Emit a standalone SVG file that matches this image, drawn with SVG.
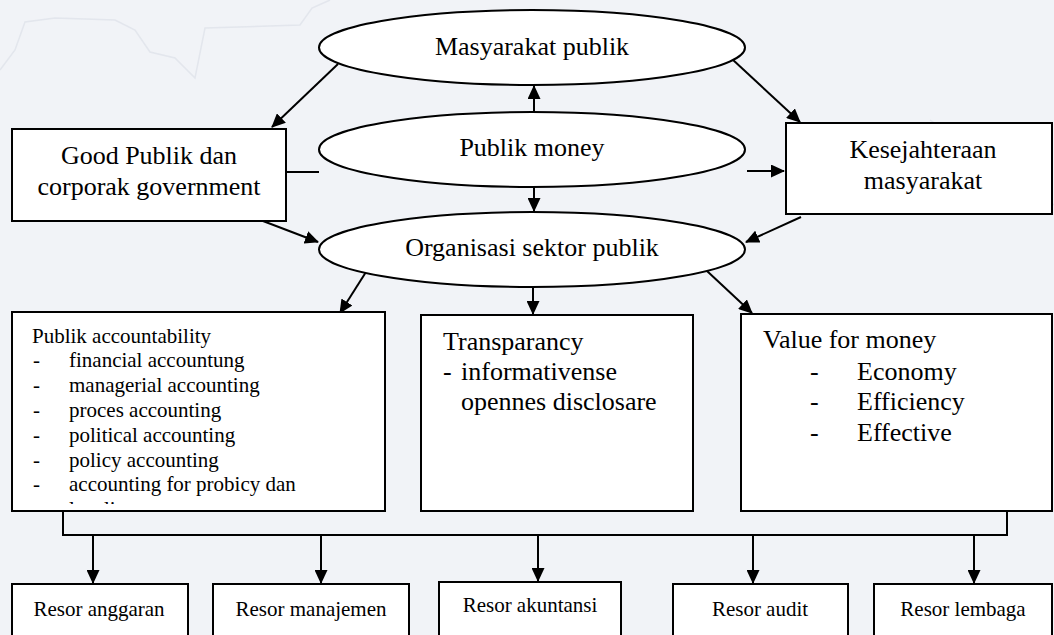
<svg xmlns="http://www.w3.org/2000/svg" width="1054" height="635" viewBox="0 0 1054 635">
<style>
.bg{fill:#f1f3f7}
.n{fill:#ffffff;stroke:#000000;stroke-width:2}
.t{font-family:'Liberation Serif','Times New Roman','DejaVu Serif',serif;fill:#000000}
.L{font-size:26px}
.S{font-size:21px}
.c{stroke:#000000;stroke-width:2;fill:none}
.a{marker-end:url(#ah)}
</style>
<defs>
<marker id="ah" markerUnits="userSpaceOnUse" markerWidth="14" markerHeight="13" refX="13" refY="6.5" orient="auto">
<path d="M0,0 L14,6.5 L0,13 z" fill="#000000"/>
</marker>
<clipPath id="accClip"><rect x="13" y="313" width="371" height="191"/></clipPath>
</defs>
<rect class="bg" x="0" y="0" width="1054" height="635"/>
<g opacity="0.35" stroke="#c9cfdb" stroke-width="1.5" fill="none">
<path d="M0,70 L15,50 L25,22 L55,18 L115,20 L135,30 L150,52 L175,58 L195,78 L205,28 L300,25 L312,8 L330,0"/>
<path d="M930,120 L1054,205"/>
</g>

<g id="connectors">
<line class="c a" x1="338" y1="64" x2="272" y2="127"/>
<line class="c a" x1="732" y1="59" x2="800" y2="122"/>
<line class="c a" x1="534" y1="112" x2="534" y2="86"/>
<line class="c a" x1="534" y1="187" x2="534" y2="211"/>
<line class="c" x1="286" y1="172" x2="319" y2="172"/>
<line class="c a" x1="747" y1="171" x2="784" y2="171"/>
<line class="c a" x1="263" y1="221" x2="318" y2="242"/>
<line class="c a" x1="801" y1="217" x2="746" y2="242"/>
<line class="c a" x1="366" y1="272" x2="340" y2="313"/>
<line class="c a" x1="533" y1="287" x2="533" y2="314"/>
<line class="c a" x1="707" y1="271" x2="752" y2="313"/>
<polyline class="c" points="63,511 63,535 1007,535 1007,511"/>
<line class="c a" x1="93" y1="535" x2="93" y2="583"/>
<line class="c a" x1="321" y1="535" x2="321" y2="583"/>
<line class="c a" x1="538" y1="535" x2="538" y2="581"/>
<line class="c a" x1="753" y1="535" x2="753" y2="583"/>
<line class="c a" x1="974" y1="535" x2="974" y2="583"/>
</g>

<g id="masyarakat-publik">
<ellipse class="n" cx="532" cy="47.5" rx="213" ry="37.5"/>
<text class="t L" x="532" y="55" text-anchor="middle">Masyarakat publik</text>
</g>
<g id="publik-money">
<ellipse class="n" cx="532" cy="149.5" rx="213" ry="37.5"/>
<text class="t L" x="532" y="156" text-anchor="middle">Publik money</text>
</g>
<g id="organisasi">
<ellipse class="n" cx="532" cy="249.5" rx="213" ry="37.5"/>
<text class="t L" x="532" y="256" text-anchor="middle">Organisasi sektor publik</text>
</g>
<g id="good-publik">
<rect class="n" x="12" y="129" width="274" height="92"/>
<text class="t L" x="149" y="164" text-anchor="middle">Good Publik dan</text>
<text class="t L" x="149" y="195" text-anchor="middle">corporak government</text>
</g>
<g id="kesejahteraan">
<rect class="n" x="786" y="123" width="266" height="91"/>
<text class="t L" x="923" y="158" text-anchor="middle">Kesejahteraan</text>
<text class="t L" x="923" y="189" text-anchor="middle">masyarakat</text>
</g>
<g id="publik-accountability">
<rect class="n" x="12" y="312" width="373" height="199"/>
<g clip-path="url(#accClip)">
<text class="t S" x="32" y="343">Publik accountability</text>
<text class="t S" x="33" y="367">-</text><text class="t S" x="69" y="367">financial accountung</text>
<text class="t S" x="33" y="392">-</text><text class="t S" x="69" y="392">managerial accounting</text>
<text class="t S" x="33" y="417">-</text><text class="t S" x="69" y="417">proces accounting</text>
<text class="t S" x="33" y="442">-</text><text class="t S" x="69" y="442">political accounting</text>
<text class="t S" x="33" y="467">-</text><text class="t S" x="69" y="467">policy accounting</text>
<text class="t S" x="33" y="491">-</text><text class="t S" x="69" y="491">accounting for probicy dan</text>
<text class="t S" x="69" y="516">legalitas</text>
</g>
</g>
<g id="transparancy">
<rect class="n" x="421" y="315" width="272" height="196"/>
<text class="t L" x="443" y="350">Transparancy</text>
<text class="t L" x="443" y="380">-</text><text class="t L" x="461" y="380">informativense</text>
<text class="t L" x="461" y="410">opennes disclosare</text>
</g>
<g id="value-for-money">
<rect class="n" x="741" y="314" width="311" height="197"/>
<text class="t L" x="763" y="348">Value for money</text>
<text class="t L" x="810" y="380">-</text><text class="t L" x="857" y="380">Economy</text>
<text class="t L" x="810" y="410">-</text><text class="t L" x="857" y="410">Efficiency</text>
<text class="t L" x="810" y="441">-</text><text class="t L" x="857" y="441">Effective</text>
</g>
<g id="resor-anggaran">
<rect class="n" x="12" y="584" width="176" height="60"/>
<text class="t S" x="99" y="616" text-anchor="middle">Resor anggaran</text>
</g>
<g id="resor-manajemen">
<rect class="n" x="213" y="584" width="196" height="60"/>
<text class="t S" x="311" y="616" text-anchor="middle">Resor manajemen</text>
</g>
<g id="resor-akuntansi">
<rect class="n" x="439" y="582" width="182" height="62"/>
<text class="t S" x="530" y="612" text-anchor="middle">Resor akuntansi</text>
</g>
<g id="resor-audit">
<rect class="n" x="673" y="584" width="175" height="60"/>
<text class="t S" x="760" y="616" text-anchor="middle">Resor audit</text>
</g>
<g id="resor-lembaga">
<rect class="n" x="874" y="584" width="178" height="60"/>
<text class="t S" x="963" y="616" text-anchor="middle">Resor lembaga</text>
</g>
</svg>
